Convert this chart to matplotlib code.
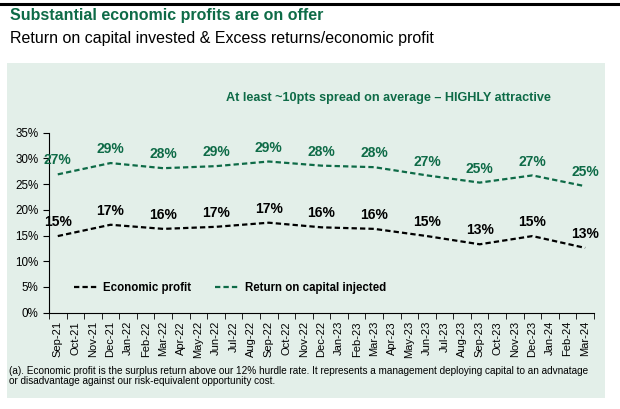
import matplotlib.pyplot as plt
from matplotlib.patches import Rectangle
from matplotlib.lines import Line2D
from matplotlib.ticker import FixedLocator, FuncFormatter

plt.rcParams['font.family'] = ['Liberation Sans', 'DejaVu Sans']

# months on the category axis
months = ['Sep-21', 'Oct-21', 'Nov-21', 'Dec-21', 'Jan-22', 'Feb-22', 'Mar-22', 'Apr-22',
          'May-22', 'Jun-22', 'Jul-22', 'Aug-22', 'Sep-22', 'Oct-22', 'Nov-22', 'Dec-22',
          'Jan-23', 'Feb-23', 'Mar-23', 'Apr-23', 'May-23', 'Jun-23', 'Jul-23', 'Aug-23',
          'Sep-23', 'Oct-23', 'Nov-23', 'Dec-23', 'Jan-24', 'Feb-24', 'Mar-24']

# quarterly readings
quarters = ['Sep-21', 'Dec-21', 'Mar-22', 'Jun-22', 'Sep-22', 'Dec-22',
            'Mar-23', 'Jun-23', 'Sep-23', 'Dec-23', 'Mar-24']
roc = [26.9, 29.1, 28.1, 28.5, 29.4, 28.6, 28.3, 26.7, 25.3, 26.7, 24.6]
econ = [14.9, 17.1, 16.3, 16.7, 17.5, 16.6, 16.3, 14.9, 13.3, 14.9, 12.6]
roc_labels = ['27%', '29%', '28%', '29%', '29%', '28%', '28%', '27%', '25%', '27%', '25%']
econ_labels = ['15%', '17%', '16%', '17%', '17%', '16%', '16%', '15%', '13%', '15%', '13%']

green = '#0e6b47'
panel = '#e3efe9'
dash = (0, (2.4, 1.4))

fig = plt.figure(figsize=(6.2, 4.09), dpi=100)

# top rule, titles, shaded panel
fig.add_artist(Line2D([0, 1], [0.991, 0.991], color='black', lw=2.2))
fig.text(0.016, 0.961, 'Substantial economic profits are on offer', color=green,
         fontsize=11.5, fontweight='bold', va='center')
fig.text(0.016, 0.907, 'Return on capital invested & Excess returns/economic profit',
         fontsize=11.5, va='center')
fig.add_artist(Rectangle((0.0113, 0.0269), 0.9645, 0.819, facecolor=panel,
                         edgecolor='none', transform=fig.transFigure, zorder=-1))

ax = fig.add_axes([0.079, 0.2355, 0.879, 0.440])
ax.set_facecolor('none')

x = [months.index(q) for q in quarters]
ax.plot(x, econ, color='black', ls=dash, lw=1.6, label='Economic profit')
ax.plot(x, roc, color=green, ls=dash, lw=1.6, label='Return on capital injected')

for xi, v, t in zip(x, roc, roc_labels):
    ax.annotate(t, (xi, v), xytext=(0, 10), textcoords='offset points', ha='center',
                va='center', color=green, fontsize=10, fontweight='bold')
for xi, v, t in zip(x, econ, econ_labels):
    ax.annotate(t, (xi, v), xytext=(0, 10), textcoords='offset points', ha='center',
                va='center', color='black', fontsize=10, fontweight='bold')

ax.set_xlim(-0.5, len(months) - 0.5)
ax.set_ylim(0, 35)
ax.set_yticks(range(0, 36, 5))
ax.yaxis.set_major_formatter(FuncFormatter(lambda v, _: f'{v:.0f}%'))
ax.set_xticks(range(len(months)))
ax.set_xticklabels(months, rotation=90, fontsize=8)
ax.xaxis.set_minor_locator(FixedLocator([i - 0.5 for i in range(len(months) + 1)]))
ax.tick_params(axis='x', which='major', length=0, pad=6)
ax.tick_params(axis='x', which='minor', length=4, direction='out')
ax.tick_params(axis='y', length=4, direction='out', labelsize=8.4)
for s in ['top', 'right']:
    ax.spines[s].set_visible(False)

ax.legend(loc='center left', bbox_to_anchor=(0.026, 0.137), ncol=2, frameon=False,
          prop={'weight': 'bold', 'size': 8.3}, handlelength=2.1, columnspacing=2.0,
          handletextpad=0.5)

fig.text(0.627, 0.760, 'At least ~10pts spread on average \u2013 HIGHLY attractive',
         color=green, fontsize=9.1, fontweight='bold', ha='center', va='center')

fig.text(0.015, 0.093, '(a). Economic profit is the surplus return above our 12% hurdle rate. '
         'It represents a management deploying capital to an advnatage',
         fontsize=7.2, va='center')
fig.text(0.015, 0.069, 'or disadvantage against our risk-equivalent opportunity cost.',
         fontsize=7.2, va='center')

fig.savefig('out.png', dpi=100)
